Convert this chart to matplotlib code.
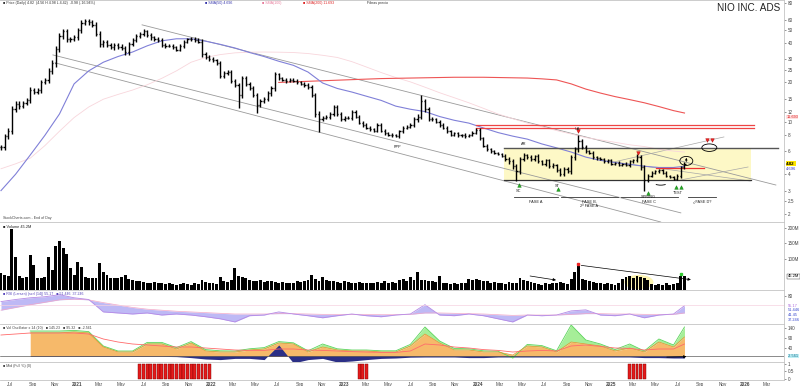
import matplotlib
matplotlib.use("Agg")
import matplotlib.pyplot as plt
import matplotlib.dates as mdates
import matplotlib.transforms as mtrans
from matplotlib.collections import LineCollection
from matplotlib.patches import Ellipse, Arc
from matplotlib.ticker import NullLocator, FixedLocator, FixedFormatter
import numpy as np
import pandas as pd

plt.rcParams['font.family'] = ['Liberation Sans', 'DejaVu Sans']

# ---------------- DATA ----------------

first_bar = "2020-06-06"   # 10-day bars

close = [6.4, 7.8, 8.6, 12.5, 13.8, 13.2, 14.0, 14.6, 17.5, 17.0,
         17.5, 20.0, 20.8, 24.5, 28.0, 36.0, 45.0, 49.0, 42.5, 43.0,
         44.0, 50.0, 57.0, 58.5, 57.5, 55.0, 47.0, 39.0, 40.5, 38.5,
         37.0, 38.5, 37.5, 36.5, 34.0, 39.0, 42.0, 45.0, 47.0, 49.0,
         46.0, 44.0, 43.0, 42.0, 38.5, 38.0, 38.0, 37.0, 35.5, 38.0,
         41.0, 42.5, 43.0, 42.0, 41.0, 33.0, 31.5, 30.0, 29.5, 28.0,
         22.5, 23.5, 24.0, 20.5, 19.0, 16.0, 21.5, 19.5, 18.0, 16.0,
         13.5, 14.5, 15.0, 16.5, 18.0, 23.0, 21.5, 21.0, 20.5, 21.0,
         20.5, 20.0, 19.5, 19.0, 18.5, 16.0, 11.5, 10.5, 10.8, 11.0,
         11.5, 13.0, 11.5, 10.5, 10.8, 10.8, 12.0, 11.0, 9.9, 9.5,
         9.0, 8.8, 8.6, 9.5, 8.6, 8.2, 8.0, 7.9, 7.8, 8.5,
         9.0, 9.2, 9.5, 10.5, 11.0, 14.5, 12.5, 10.5, 10.5, 10.0,
         9.5, 9.0, 8.5, 8.0, 8.2, 7.9, 8.0, 7.8, 8.0, 8.3,
         8.7, 7.5, 6.6, 6.2, 6.0, 5.8, 5.7, 5.5, 5.2, 5.0,
         4.6, 4.2, 5.2, 5.6, 5.4, 5.2, 5.5, 5.0, 4.8, 5.1,
         4.6, 4.7, 4.3, 4.0, 4.4, 4.2, 5.4, 6.2, 7.2, 6.5,
         6.0, 5.8, 5.4, 5.3, 5.2, 5.0, 5.1, 4.8, 4.9, 4.7,
         4.8, 4.7, 5.0, 5.1, 5.4, 4.5, 3.6, 3.9, 4.1, 4.2,
         4.3, 4.1, 3.9, 3.8, 3.7, 3.9, 4.5, 4.82]

# bar range beyond open/close, percent
bar_range = [8, 9, 10, 12, 8, 9, 7, 8, 10, 9,
             8, 9, 7, 9, 10, 12, 11, 10, 9, 8,
             8, 9, 8, 7, 8, 7, 9, 10, 8, 7,
             7, 8, 7, 8, 9, 8, 7, 8, 7, 8,
             6, 7, 6, 5, 7, 6, 5, 6, 5, 6,
             6, 5, 6, 5, 6, 9, 7, 6, 7, 6,
             9, 8, 7, 8, 7, 8, 9, 8, 7, 8,
             9, 8, 7, 8, 9, 8, 6, 5, 6, 5,
             5, 6, 5, 6, 7, 8, 9, 10, 7, 6,
             7, 8, 7, 6, 5, 6, 7, 6, 5, 6,
             5, 6, 5, 6, 5, 5, 4, 5, 4, 6,
             6, 5, 6, 7, 8, 9, 8, 7, 6, 5,
             6, 5, 6, 5, 4, 5, 4, 5, 4, 5,
             6, 7, 6, 5, 6, 5, 4, 5, 6, 7,
             8, 9, 8, 6, 5, 6, 5, 6, 5, 6,
             5, 6, 5, 6, 5, 6, 8, 9, 8, 7,
             6, 5, 6, 5, 4, 5, 4, 5, 4, 5,
             4, 5, 6, 5, 6, 8, 9, 7, 6, 5,
             5, 4, 5, 4, 5, 6, 7, 6]

low_tails = {65: 12.8, 70: 11.7, 87: 8.4, 141: 3.55, 176: 3.0}
high_tails = {115: 16.0, 158: 7.9, 174: 5.7}

volume_m = [52, 48, 45, 195, 105, 42, 38, 40, 110, 80,
            38, 36, 40, 105, 63, 140, 158, 135, 113, 70,
            48, 90, 72, 40, 38, 36, 38, 87, 58, 48,
            38, 36, 38, 40, 46, 34, 30, 28, 26, 24,
            22, 20, 24, 22, 20, 18, 20, 18, 16, 18,
            20, 18, 16, 22, 18, 30, 24, 20, 22, 18,
            40, 28, 25, 30, 68, 45, 40, 38, 30, 28,
            26, 30, 24, 28, 26, 24, 22, 24, 20, 22,
            22, 26, 24, 28, 30, 48, 35, 28, 40, 30,
            28, 26, 24, 22, 26, 24, 22, 20, 24, 22,
            20, 22, 20, 24, 20, 26, 22, 24, 20, 30,
            35, 28, 40, 30, 55, 32, 30, 28, 26, 24,
            45, 22, 20, 18, 20, 18, 22, 20, 35, 32,
            34, 30, 28, 26, 22, 24, 20, 22, 18, 24,
            20, 22, 38, 30, 28, 24, 20, 18, 16, 20,
            18, 22, 20, 24, 22, 18, 35, 55, 77, 35,
            32, 28, 25, 22, 20, 18, 20, 18, 16, 22,
            35, 40, 42, 38, 44, 40, 36, 30, 18, 16,
            18, 15, 20, 16, 18, 22, 45, 42]

# studies, read every 4th bar
ind_idx = list(range(0, 188, 4)) + [187]
nan = np.nan

sma_50 = [3.0, 4.0, 5.6, 7.9, 11.5, 19.5, 24.5, 28.5, 31.5, 34.1, 38.0, 41.5,
          43.0, 43.0, 41.2, 39.0, 36.6, 33.8, 31.5, 29.0, 27.0, 24.0, 19.8, 18.0,
          16.9, 15.7, 14.6, 13.2, 12.5, 12.0, 11.0, 10.3, 9.8, 9.0, 8.3, 7.8,
          7.4, 6.8, 6.35, 5.9, 5.4, 5.1, 4.9, 4.75, 4.6, 4.5, 4.5, 4.6]
sma_100 = [4.4, 4.8, 5.3, 6.6, 8.5, 10.8, 13.0, 14.9, 16.2, 17.5, 19.2, 21.5,
           24.5, 28.5, 31.0, 32.6, 33.6, 34.0, 34.1, 34.0, 33.8, 33.2, 32.2, 31.0,
           28.8, 26.2, 23.8, 21.8, 20.2, 18.4, 16.7, 15.3, 14.0, 12.7, 11.5, 10.6,
           9.8, 9.2, 8.6, 8.1, 7.6, 7.3, 7.0, 6.7, 6.5, 6.2, 6.0, 5.9]
sma_200 = [nan] * 19 + [20.0, 20.2, 20.4, 20.6, 20.8, 21.0, 21.2, 21.4, 21.5, 21.6,
                        21.7, 21.8, 21.9, 21.9, 21.9, 21.8, 21.7, 21.6, 21.3, 20.9,
                        19.5, 17.8, 16.6, 15.6, 14.8, 14.0, 13.1, 12.2, 11.7]

rsi = [65, 71, 76, 79, 85, 76, 71, 35, 32, 29, 32, 26, 29, 26, 21, 15, 6, 24,
       26, 35, 29, 24, 18, 24, 29, 24, 21, 26, 29, 56, 26, 24, 29, 24, 15, 6,
       26, 24, 26, 38, 41, 26, 24, 29, 18, 26, 29, 53]
rsi_signal = [40, 48, 56, 63, 70, 72, 70, 62, 55, 48, 43, 40, 37, 35, 33, 31, 29, 29,
              29, 30, 30, 29, 28, 28, 28, 28, 27, 27, 28, 32, 32, 31, 30, 29, 27, 25,
              26, 26, 26, 28, 30, 30, 29, 29, 28, 28, 28, 32]

osc_orange = [nan, nan, 115, 115, 115, 120, 115, 45, 20, 20, 60, 60, 35, 65, 25, 20,
              20, 30, 35, 65, 60, 20, 45, 30, 25, 25, 20, 20, 50, 110, 65, 30,
              30, 20, 20, 5, 50, 45, 20, 70, 60, 50, 25, 40, 20, 70, 45, 95]
osc_green = [nan, nan, 125, 125, 125, 128, 122, 50, 25, 25, 68, 68, 42, 72, 32, 26,
             25, 36, 42, 72, 66, 26, 60, 36, 30, 30, 26, 26, 58, 145, 75, 38,
             36, 26, 24, -10, 58, 52, 26, 155, 80, 60, 32, 60, 25, 85, 55, 145]
osc_navy = [nan, nan, -2, -2, -2, -2, -2, -2, -2, -2, -2, -2, -3, -8, -15, -18,
            -12, -12, -18, 55, -35, -18, -12, -30, -25, -18, -12, -10, -6, -5, -5, -5,
            -8, -8, -5, -5, -5, -5, -5, -5, -5, -5, -5, -5, -8, -8, -10, -10]
osc_ma = [105, 110, 115, 115, 115, 115, 110, 85, 70, 60, 55, 50, 45, 45, 40, 35,
          30, 28, 28, 35, 35, 30, 28, 25, 22, 20, 18, 18, 25, 60, 55, 45,
          40, 32, 28, 20, 25, 28, 25, 50, 55, 48, 40, 38, 30, 35, 35, 60]

signal_blocks = [(38, 57), (98, 100), (172, 176)]

# hand-drawn studies on the price panel: (bar, price)
channel_lines = [((38.6, 54.9), (212.0, 3.31)),
                 ((14.2, 32.4), (186.0, 2.03)),
                 ((14.8, 28.2), (180.5, 1.73))]
thin_lines = [((167.7, 4.96), (197.8, 7.69)),
              ((186.0, 3.62), (204.4, 4.54)),
              ((164.0, 5.13), (205.0, 3.55))]
range_box = (137.5, 205.2, 3.6, 6.37)
range_top_end = 212.6
resistance = [9.5, 9.0]
resistance_span = (129.9, 206.0)
pivot_line = (179.2, 192.3, 4.46)

green_marks = [(141.6, 3.31), (152.3, 3.09), (177.0, 2.88), (184.7, 3.2), (186.0, 3.2)]
red_marks = [(157.8, 8.5), (174.2, 5.8), (193.2, 7.3), (194.5, 7.3)]
point_labels = [("AR", 143.0, 6.8), ("UA", 157.8, 8.9), ("PPP", 108.5, 6.5),
                ("SC", 141.6, 2.98), ("ST", 152.3, 3.27), ("SPRING", 177.0, 2.68),
                ("TEST", 185.3, 2.9)]
phases = [("FASE A", 140.3, 152.3), ("FASE B,\n2ª FASE A", 153.2, 168.8),
          ("FASE C", 169.6, 185.2), ("¿FASE D?", 188.0, 195.6)]
phase_level = 2.68

month_ticks = pd.date_range("2020-07-01", "2026-03-01", freq="2MS")
price_ticks = [2, 2.5, 3, 4, 6, 8, 10, 12, 15, 20, 25, 30, 40, 50, 60, 80]
volume_ticks = [100, 150, 200]

# ---------------- PREP ----------------

n = len(close)
dates = pd.date_range(first_bar, periods=n, freq="10D")
xd = mdates.date2num(dates)
x0 = xd[0]


def bx(i):
    return x0 + 10.0 * np.asarray(i)


opens = [close[0]] + close[:-1]
hi = [max(o, c) * (1 + r / 200) for o, c, r in zip(opens, close, bar_range)]
lo = [min(o, c) * (1 - r / 200) for o, c, r in zip(opens, close, bar_range)]
for k, v in low_tails.items():
    lo[k] = v
for k, v in high_tails.items():
    hi[k] = v

xi = bx(ind_idx)

# ---------------- FIGURE ----------------

fig = plt.figure(figsize=(8, 3.86), dpi=100)
H = 386.0
W = 784 / 800


def panel(top, bottom):
    return fig.add_axes([0, 1 - bottom / H, W, (bottom - top) / H])


ax_p = panel(0, 222)
ax_v = panel(222, 289.5)
ax_r = panel(289.5, 324)
ax_o = panel(324, 362)
ax_s = panel(362, 380)
axes = [ax_p, ax_v, ax_r, ax_o, ax_s]

xlim = (x0 - 2.7, x0 + 783 * 2.736)
for a in axes:
    a.set_xlim(*xlim)
    a.set_facecolor("white")
    for s in ["top", "bottom", "right"]:
        a.spines[s].set_color("#c4c4c4")
        a.spines[s].set_linewidth(0.6)
    a.spines["left"].set_visible(False)
    a.yaxis.tick_right()
    a.tick_params(axis="y", labelsize=3.3, length=1.5, width=0.4, pad=1.5,
                  colors="#444444")
    a.tick_params(axis="x", length=0)
    a.set_xticks([])

# ---------------- PRICE PANEL ----------------

ax_p.set_yscale("log")
ax_p.set_ylim(1.73, 84.9)
ax_p.yaxis.set_major_locator(FixedLocator(price_ticks))
ax_p.yaxis.set_major_formatter(FixedFormatter([f"{t:g}" for t in price_ticks]))
ax_p.yaxis.set_minor_locator(NullLocator())

bx0, bx1, blo, bhi = range_box
ax_p.fill_between([bx(bx0), bx(bx1)], blo, bhi, color="#fdf8c6", zorder=1, lw=0)
ax_p.plot([bx(bx0), bx(range_top_end)], [bhi, bhi], color="#555555", lw=1.0, zorder=3)
ax_p.plot([bx(bx0), bx(bx1)], [blo, blo], color="#333333", lw=0.9, zorder=3)

for (a0, p0), (a1, p1) in channel_lines:
    ax_p.plot([bx(a0), bx(a1)], [p0, p1], color="#9a9a9a", lw=0.6, zorder=2)
for (a0, p0), (a1, p1) in thin_lines:
    ax_p.plot([bx(a0), bx(a1)], [p0, p1], color="#a8a8a8", lw=0.5, zorder=2)

for lvl in resistance:
    ax_p.plot([bx(resistance_span[0]), bx(resistance_span[1])], [lvl, lvl],
              color="#ee4444", lw=0.9, zorder=3)
ax_p.plot([bx(pivot_line[0]), bx(pivot_line[1])], [pivot_line[2]] * 2,
          color="#ee3333", lw=0.9, zorder=3)

ax_p.plot(xi, sma_100, color="#f8d6dc", lw=0.6, zorder=2)
ax_p.plot(xi, sma_200, color="#ee5555", lw=0.8, zorder=2)
ax_p.plot(xi, sma_50, color="#8080d8", lw=0.8, zorder=2)

tk = 3.2
segs = []
for x, o, c, h, l in zip(xd, opens, close, hi, lo):
    segs.append([(x, l), (x, h)])
    segs.append([(x - tk, o), (x, o)])
    segs.append([(x, c), (x + tk, c)])
ax_p.add_collection(LineCollection(segs, colors="black", linewidths=1.0, zorder=4))

for a, p in green_marks:
    ax_p.plot(bx(a), p, marker="^", ms=2.6, color="#22aa22", mec="#117711",
              mew=0.3, zorder=5)
for a, p in red_marks:
    ax_p.plot(bx(a), p, marker="v", ms=2.6, color="#ee2222", mec="#aa0000",
              mew=0.3, zorder=5)
for txt, a, p in point_labels:
    ax_p.text(bx(a), p, txt, fontsize=2.8, ha="center", va="center",
              color="#222222", zorder=6)

for txt, a0, a1 in phases:
    ax_p.plot([bx(a0), bx(a1)], [phase_level] * 2, color="#333333", lw=0.6)
    ax_p.text(bx((a0 + a1) / 2), phase_level * 0.955, txt, fontsize=2.8,
              ha="center", va="top", color="#222222", linespacing=1.1)


def px_patch(a, p, patch):
    patch.set_transform(fig.dpi_scale_trans +
                        mtrans.ScaledTranslation(bx(a), p, ax_p.transData))
    ax_p.add_patch(patch)


px_patch(193.8, 6.37, Ellipse((0, 0), 0.15, 0.075, fc="none", ec="black", lw=0.6, zorder=6))
px_patch(187.5, 5.05, Ellipse((0, 0), 0.13, 0.09, fc="none", ec="black", lw=0.6, zorder=6))
ax_p.annotate("", xy=(bx(187.5), 5.6), xytext=(bx(187.5), 4.75),
              arrowprops=dict(arrowstyle="-|>", lw=0.5, color="black",
                              mutation_scale=3), zorder=6)
px_patch(180.5, 3.45, Arc((0, 0), 0.14, 0.05, theta1=200, theta2=340,
                          color="black", lw=0.6, zorder=6))

ax_p.text(0.995, 1 - 8 / 222, "NIO INC. ADS", transform=ax_p.transAxes,
          fontsize=7.2, ha="right", va="center", color="#222222")

hdr = [("\u25a0 Price (Daily) 4.82  (4.56 H 4.98 L 4.42)  -0.98 (-16.94%)", "#333333"),
       ("\u25a0 SMA(50) 4.696", "#3333aa"),
       ("\u25a0 SMA(100)", "#e77a9a"),
       ("\u25a0 SMA(200) 11.693", "#dd2222"),
       ("Fibras precio", "#333333")]
hx = 0.004
for t, col in hdr:
    ax_p.text(hx, 1 - 3 / 222, t, transform=ax_p.transAxes, fontsize=2.6,
              color=col, va="center", ha="left")
    hx += len(t) * 0.0042 + 0.01

blend_p = mtrans.blended_transform_factory(ax_p.transAxes, ax_p.transData)
ax_p.text(1.003, close[-1], f"{close[-1]:.2f}", transform=blend_p, fontsize=3.2,
          va="center", ha="left", color="black", fontweight="bold",
          bbox=dict(boxstyle="square,pad=0.15", fc="#ffe600", ec="none"))
ax_p.text(1.003, sma_50[-1] * 0.955, "4.696", transform=blend_p, fontsize=3,
          va="center", ha="left", color="#3333cc")
ax_p.text(1.003, 10.95, "11.693", transform=blend_p, fontsize=2.8,
          va="center", ha="left", color="#dd2222",
          bbox=dict(boxstyle="square,pad=0.05", fc="#ffe0e0", ec="none"))
ax_p.text(0.004, 2 / 222, "StockCharts.com - End of Day", transform=ax_p.transAxes,
          fontsize=2.6, color="#444444", va="bottom")

# ---------------- VOLUME ----------------

ax_v.set_ylim(0, 217.8)
ax_v.bar(xd, volume_m, width=8, color="black", lw=0, zorder=2)
ax_v.plot(xd[158], volume_m[158] + 4, marker="s", ms=2, color="#ee2222", zorder=4)
ax_v.plot(xd[186], volume_m[186] + 4, marker="s", ms=2, color="#33cc33", zorder=4)
ax_v.set_yticks(volume_ticks)
ax_v.set_yticklabels([f"{t}M" for t in volume_ticks])
ax_v.add_patch(Ellipse((bx(174.5), 24), 80, 46, fc="#fbf3b0", ec="none", zorder=1))
ax_v.annotate("", xy=(bx(152.6), 29), xytext=(bx(144), 45),
              arrowprops=dict(arrowstyle="-|>", lw=0.5, color="black", mutation_scale=4))
ax_v.annotate("", xy=(bx(189.5), 30.6), xytext=(bx(158), 79),
              arrowprops=dict(arrowstyle="-|>", lw=0.5, color="black", mutation_scale=4),
              zorder=5)
ax_v.text(0.004, 0.93, "\u25a0 Volume 45.2M", transform=ax_v.transAxes,
          fontsize=2.8, color="#222222", va="center")
blend_v = mtrans.blended_transform_factory(ax_v.transAxes, ax_v.transData)
ax_v.text(1.005, 42, "45.2M", transform=blend_v, fontsize=3, va="center",
          bbox=dict(boxstyle="square,pad=0.15", fc="white", ec="#333333", lw=0.3))

# ---------------- RSI PANEL ----------------

ax_r.set_ylim(0, 100)
ax_r.fill_between(xi, rsi, rsi_signal, color="#a9a2f2", alpha=0.75, lw=0)
ax_r.plot(xi, rsi_signal, color="#f2a8c8", lw=0.5)
ax_r.plot(xi, rsi, color="#b58ae6", lw=0.6)
ax_r.axhline(55, color="#f6d2e0", lw=0.5)
ax_r.set_yticks([80])
ax_r.text(0.004, 0.88, "\u25a0 RSI (Larsen) (scrl (14)) 55.17   \u25a0 51.446  37.246",
          transform=ax_r.transAxes, fontsize=2.6, color="#5544bb", va="center")
blend_r = mtrans.blended_transform_factory(ax_r.transAxes, ax_r.transData)
for v, t, col in [(53, "55.17", "#aa66dd"), (41, "51.446", "#3344cc"),
                  (26, "41.45", "#3344cc"), (12, "37.246", "#3344cc")]:
    ax_r.text(1.005, v, t, transform=blend_r, fontsize=2.8, va="center", color=col)

# ---------------- VOLUME OSCILLATOR ----------------

ax_o.set_ylim(-30, 160)
og = np.array(osc_green, dtype=float)
oo = np.array(osc_orange, dtype=float)
ax_o.fill_between(xi, oo, og, color="#a6ee98", lw=0)
ax_o.fill_between(xi, 0, oo, color="#f6b96a", lw=0)
ax_o.fill_between(xi, 0, osc_navy, color="#2b2f86", lw=0)
ax_o.plot(xi, og, color="#5bd45b", lw=0.6)
ax_o.plot(xi, oo, color="#e8912e", lw=0.5)
ax_o.plot(xi, osc_ma, color="#ff6a6a", lw=0.6)
ax_o.axhline(0, color="#333333", lw=0.4)
ax_o.annotate("", xy=(bx(188.3), -3), xytext=(bx(181.4), -6),
              arrowprops=dict(arrowstyle="-|>", lw=0.5, color="black", mutation_scale=4))
ax_o.set_yticks([40, 90, 140])
ax_o.text(0.004, 0.9, "\u25a0 Vol Oscillator x 14 (10)   \u25a0 145.23   \u25a0 95.32   \u25a0 -2.561",
          transform=ax_o.transAxes, fontsize=2.6, color="#444444", va="center")
blend_o = mtrans.blended_transform_factory(ax_o.transAxes, ax_o.transData)
ax_o.text(1.005, 0, "-2.561", transform=blend_o, fontsize=2.8, va="center",
          color="#116688", bbox=dict(boxstyle="square,pad=0.1", fc="#bff0f5", ec="none"))

# ---------------- SIGNAL PANEL ----------------

ax_s.set_ylim(-0.08, 1.12)
for a0, a1 in signal_blocks:
    idx = np.arange(a0, a1 + 1)
    ax_s.bar(bx(idx), 1.0, width=8, bottom=0, color="#e41b1b",
             edgecolor="#7a0000", lw=0.3, align="center")
ax_s.set_yticks([0, 0.5, 1])
ax_s.set_yticklabels(["0", "0.5", "1"])
ax_s.text(0.004, 0.75, "\u25a0 Mid (Full %) (0)", transform=ax_s.transAxes,
          fontsize=2.6, color="#444444", va="center")

ax_s.set_xticks(mdates.date2num(month_ticks))
labels = [str(d.year) if d.month == 1 else d.strftime("%b") for d in month_ticks]
ax_s.set_xticklabels(labels)
ax_s.tick_params(axis="x", labelsize=3.3, pad=1.5, colors="#444444", length=0)
for lab, d in zip(ax_s.get_xticklabels(), month_ticks):
    if d.month == 1:
        lab.set_fontweight("bold")

fig.savefig("out.png", dpi=100, facecolor="white")
